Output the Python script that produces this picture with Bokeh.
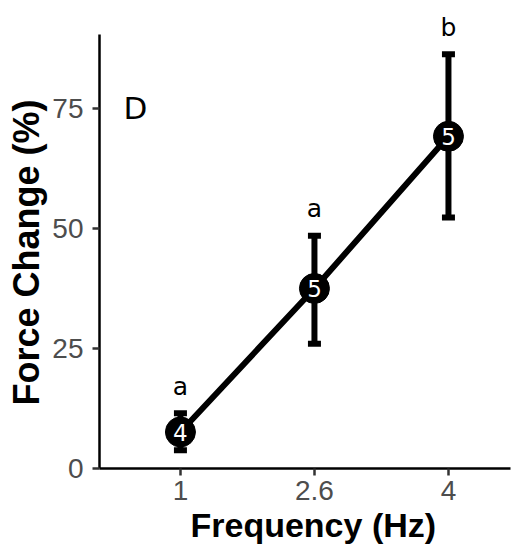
from bokeh.plotting import figure
from bokeh.models import Range1d, FixedTicker, ColumnDataSource, Whisker, TeeHead, Title
from bokeh.core.properties import value
from bokeh.embed import file_html
from bokeh.resources import INLINE

# ---- data ----
freq_labels = ["1", "2.6", "4"]
force_mean = [7.6, 37.5, 69.2]
force_upper = [11.5, 48.5, 86.3]
force_lower = [3.8, 26.0, 52.3]
n_samples = ["4", "5", "5"]
group_letters = ["a", "a", "b"]
panel_tag = "D"
y_ticks = [0, 25, 50, 75]
x_title = "Frequency (Hz)"
y_title = "Force Change (%)"

xpos = list(range(len(freq_labels)))
letter_offset = 5.6
letter_y = [u + letter_offset for u in force_upper]

src = ColumnDataSource(dict(x=xpos, mean=force_mean, upper=force_upper, lower=force_lower,
                            n=n_samples, letter=group_letters, ly=letter_y))

p = figure(width=519, height=553, output_backend="svg", toolbar_location=None,
           x_range=Range1d(-0.604, 2.463), y_range=Range1d(0, 95.4),
           min_border_left=99, min_border_right=9, min_border_top=10, min_border_bottom=85)
p.outline_line_color = None
p.xgrid.grid_line_color = None
p.ygrid.grid_line_color = None
p.background_fill_color = "white"
p.border_fill_color = "white"

# line connecting means
p.line("x", "mean", source=src, line_color="black", line_width=6)

# error bars
wh = Whisker(base="x", upper="upper", lower="lower", source=src, dimension="height",
             line_color="black", line_width=6,
             upper_head=TeeHead(size=13, line_width=6, line_color="black"),
             lower_head=TeeHead(size=13, line_width=6, line_color="black"))
p.add_layout(wh)

# points
p.scatter("x", "mean", source=src, size=30, fill_color="black", line_color="black")
p.text("x", "mean", text="n", source=src, text_color="white", text_align="center",
       text_baseline="middle", text_font=value("DejaVu Sans"), text_font_size="23px")

# significance letters
p.text("x", "ly", text="letter", source=src, text_color="black", text_align="center",
       text_baseline="middle", text_font=value("DejaVu Sans"), text_font_size="25px")

# panel tag
p.text(x=[-0.336], y=[75], text=[panel_tag], text_color="black", text_align="center",
       text_baseline="middle", text_font=value("DejaVu Sans"), text_font_size="31px")

for ax in (p.xaxis[0], p.yaxis[0]):
    ax.axis_line_color = "black"
    ax.axis_line_width = 2.5
    ax.major_tick_line_color = "#333333"
    ax.major_tick_line_width = 2.5
    ax.major_tick_in = 0
    ax.major_tick_out = 7
    ax.minor_tick_line_color = None
    ax.major_label_text_color = "#4D4D4D"
    ax.major_label_text_font = "Liberation Sans"
    ax.major_label_text_font_size = "28px"

p.xaxis.ticker = FixedTicker(ticks=xpos)
p.xaxis.major_label_overrides = {i: s for i, s in zip(xpos, freq_labels)}
p.xaxis.major_label_standoff = 5

p.yaxis.ticker = FixedTicker(ticks=y_ticks)
p.yaxis.bounds = (0, 90.4)
p.yaxis.major_label_standoff = 9

# axis titles as side titles (centred on the original panel)
p.add_layout(Title(text=x_title, align="left", offset=91, vertical_align="top", standoff=6,
                   text_font="Liberation Sans", text_font_style="bold",
                   text_font_size="34px", text_color="black"), "below")
p.add_layout(Title(text=y_title, align="left", offset=63, vertical_align="bottom", standoff=6,
                   text_font="Liberation Sans", text_font_style="bold",
                   text_font_size="36px", text_color="black"), "left")

open("out.html", "w").write(file_html(p, INLINE))
